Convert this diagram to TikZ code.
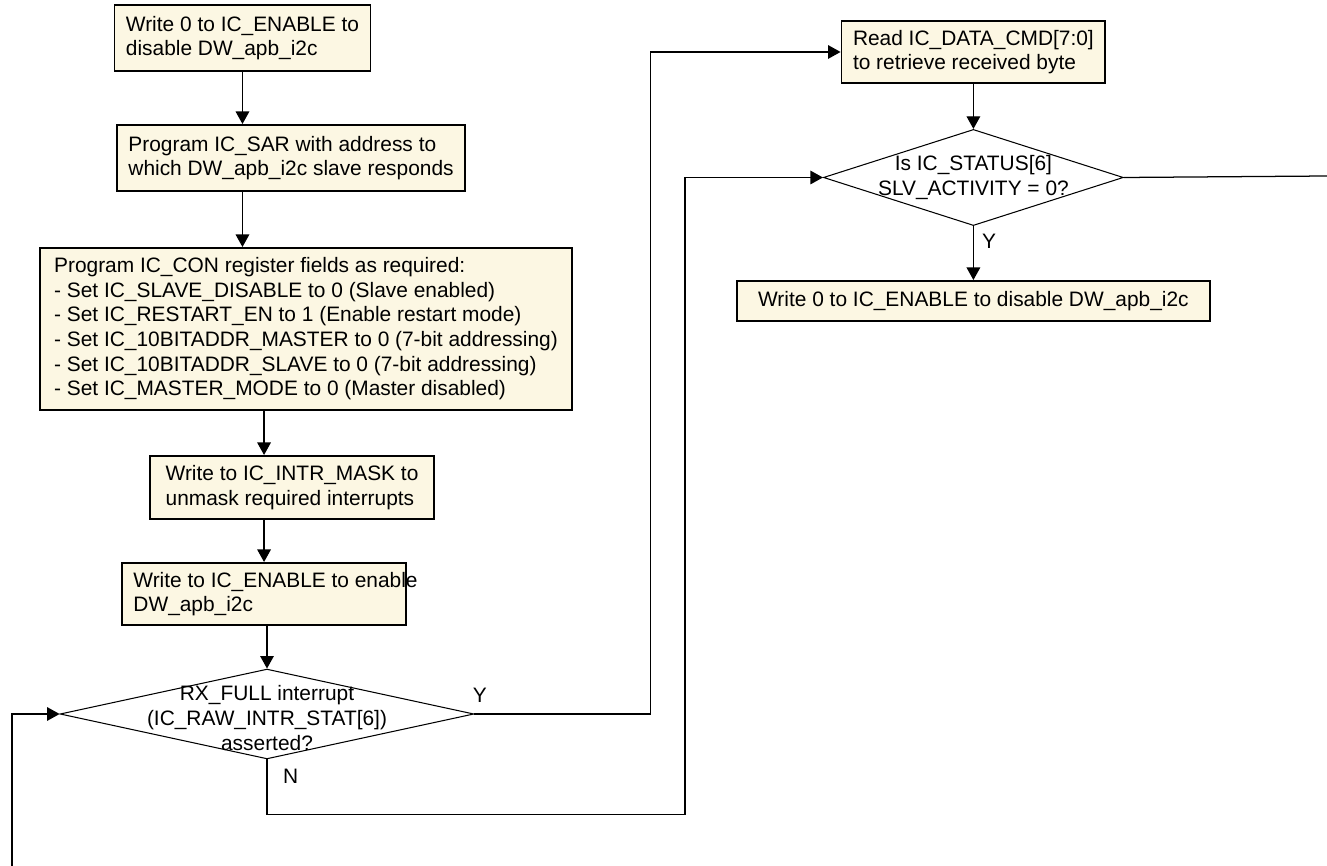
\documentclass[tikz,border=0pt]{standalone}
\usepackage{fontspec}
\setmainfont{Liberation Sans}
\usetikzlibrary{arrows.meta, positioning, shapes.geometric}
\definecolor{notefill}{RGB}{252,247,227}

\begin{document}
\begin{tikzpicture}[
    x=0.4785pt, y=-0.4785pt, >={Triangle[length=6pt,width=6.5pt]},
    font=\fontsize{10}{11.8}\selectfont,
    procbox/.style={draw, line width=0.9pt, fill=notefill, align=left,
                    inner xsep=5.5pt, inner ysep=3pt},
    testbox/.style={draw, diamond, line width=0.5pt, inner sep=0pt},
    flow/.style={->, line width=0.6pt},
    tag/.style={inner sep=0pt}
  ]
  \useasboundingbox (0,0) rectangle (1327,866);

  \node[procbox, anchor=north west, minimum width=122pt, minimum height=31.6pt]
    (disable) at (113.5,4) {Write 0 to IC\_ENABLE to\\disable DW\_apb\_i2c};
  \node[procbox, anchor=north west, minimum width=166pt, minimum height=31.6pt]
    (sar) at (116,124) {Program IC\_SAR with address to\\which DW\_apb\_i2c slave responds};
  \node[procbox, anchor=north west, minimum width=254.6pt, minimum height=77.5pt]
    (con) at (39,247) {Program IC\_CON register fields as required:\\
      - Set IC\_SLAVE\_DISABLE to 0 (Slave enabled)\\
      - Set IC\_RESTART\_EN to 1 (Enable restart mode)\\
      - Set IC\_10BITADDR\_MASTER to 0 (7-bit addressing)\\
      - Set IC\_10BITADDR\_SLAVE to 0 (7-bit addressing)\\
      - Set IC\_MASTER\_MODE to 0 (Master disabled)};
  \node[procbox, anchor=north west, minimum width=136pt, minimum height=30pt]
    (mask) at (149,455) {Write to IC\_INTR\_MASK to\\unmask required interrupts};
  \node[procbox, anchor=north west, minimum width=136pt, minimum height=29.7pt]
    (enable) at (121,562)
    {\makebox[125pt][l]{Write to IC\_ENABLE to enable}\\DW\_apb\_i2c};
  \node[testbox, minimum width=198pt, minimum height=43pt,
        label={[align=center, inner sep=0pt, yshift=-2pt]center:RX\_FULL interrupt\\(IC\_RAW\_INTR\_STAT[6])\\asserted?}]
    (rxfull) at (267,714) {};

  \node[procbox, minimum width=125pt, minimum height=29.7pt]
    (readbyte) at (973.4,52) {Read IC\_DATA\_CMD[7:0]\\to retrieve received byte};
  \node[testbox, minimum width=143.5pt, minimum height=46pt, below=21.5pt of readbyte,
        label={[align=center, inner sep=0pt]center:Is IC\_STATUS[6]\\SLV\_ACTIVITY = 0?}]
    (slvidle) {};
  \node[procbox, minimum width=226pt, minimum height=19pt, below=25.8pt of slvidle]
    (disable2) {Write 0 to IC\_ENABLE to disable DW\_apb\_i2c};

  \draw[flow] (disable.south) -- (disable.south |- sar.north);
  \draw[flow] (sar.south -| disable.south) -- (con.north -| disable.south);
  \draw[flow] (con.south -| enable.north) -- (mask.north -| enable.north);
  \draw[flow] (mask.south -| enable.north) -- (enable.north);
  \draw[flow] (enable.south -| rxfull.north) -- (rxfull.north);

  \draw[flow] (rxfull.east) -- ++(176,0) |- (readbyte.west);
  \draw[flow] (rxfull.south) -- ++(0,55) -- ++(418,0) |- (slvidle.west);
  \coordinate (loopin) at (12,866);
  \draw[flow] (loopin) |- (rxfull.west);
  \draw[flow] (readbyte) -- (slvidle);
  \draw[flow] (slvidle) -- (disable2);
  \coordinate (slvout) at (1327,176);
  \draw[line width=0.6pt] (slvidle.east) -- (slvout);

  \node[tag, above right=5.5pt and -1pt of rxfull.east] (yes1) {Y};
  \node[tag, below right=4.3pt and 7.5pt of rxfull.south] (no1) {N};
  \node[tag, below right=3.7pt and 4pt of slvidle.south] (yes2) {Y};
\end{tikzpicture}
\end{document}
